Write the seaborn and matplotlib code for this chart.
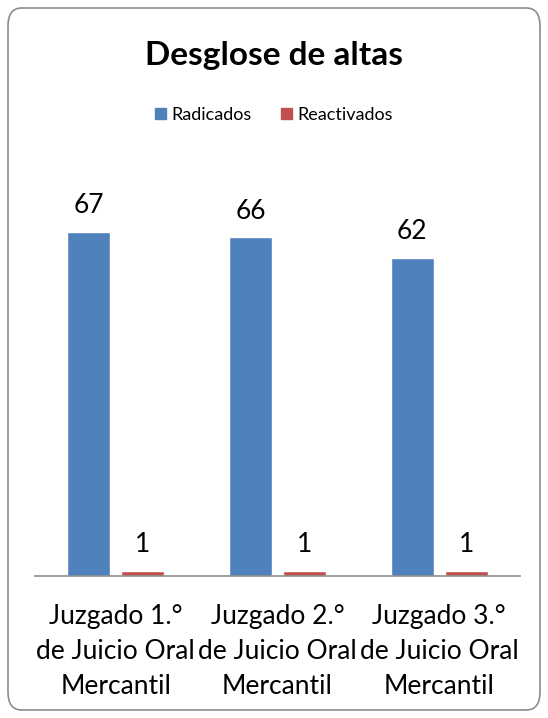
import seaborn as sns
import numpy as np
import matplotlib.pyplot as plt
import pandas as pd
from matplotlib.patches import FancyBboxPatch

# datos
categorias = ['Juzgado 1.°\nde Juicio Oral\nMercantil',
              'Juzgado 2.°\nde Juicio Oral\nMercantil',
              'Juzgado 3.°\nde Juicio Oral\nMercantil']
series = ['Radicados', 'Reactivados']
radicados = [67, 66, 62]
reactivados = [1, 1, 1]
colores = ['#4F81BD', '#C0504D']

sns.set_style('white')
plt.rcParams['font.family'] = ['Lato', 'DejaVu Sans']
plt.rcParams['text.color'] = 'black'
plt.rcParams['xtick.color'] = 'black'

df = pd.DataFrame({
    'categoria': categorias * 2,
    'serie': [series[0]] * 3 + [series[1]] * 3,
    'valor': radicados + reactivados,
})

W, H = 548, 718
fig = plt.figure(figsize=(W / 100, H / 100), dpi=100)

# marco redondeado
marco = FancyBboxPatch((8 / W, 8 / H), 532 / W, 702 / H,
                       boxstyle='round,pad=0,rounding_size=0.025',
                       transform=fig.transFigure, facecolor='none',
                       edgecolor='#8c8c8c', linewidth=1.2, zorder=0)
fig.patches.append(marco)

ymax = 80
alto = ymax * 5.13
ax = fig.add_axes([35 / W, (H - 576) / H, 485 / W, alto / H])
ax.patch.set_alpha(0)

sns.barplot(data=df, x='categoria', y='valor', hue='serie',
            palette=colores, width=0.667, gap=0.2, saturation=1,
            ax=ax, legend=False)

for cont in ax.containers:
    ax.bar_label(cont, padding=10, fontsize=19, color='black')

ax.set_xlim(-0.5, 2.5)
ax.set_ylim(0, ymax)
ax.set_xlabel('')
ax.set_ylabel('')
ax.set_yticks([])
ax.tick_params(axis='x', length=0, pad=20, labelsize=19, labelcolor='black')
for s in ['top', 'left', 'right']:
    ax.spines[s].set_visible(False)
ax.spines['bottom'].set_color('#8c8c8c')
ax.spines['bottom'].set_linewidth(1.2)
for t in ax.get_xticklabels():
    t.set_linespacing(1.5)

fig.text(0.5, 1 - 55 / H, 'Desglose de altas', ha='center', va='center',
         fontsize=24, fontweight='bold', color='black')

# leyenda
handles = [plt.Rectangle((0, 0), 1, 1, color=c) for c in colores]
fig.legend(handles, series, loc='center', bbox_to_anchor=(0.5, 1 - 115 / H),
           ncol=2, frameon=False, fontsize=13, handlelength=0.6,
           handleheight=0.6, handletextpad=0.3, columnspacing=1.6)

fig.savefig('out.png', dpi=100)
